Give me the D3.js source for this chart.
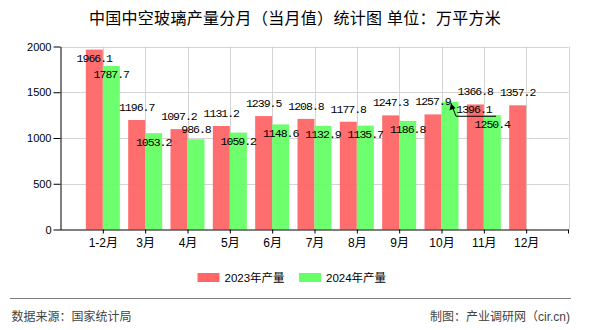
<!DOCTYPE html>
<html>
<head>
<meta charset="utf-8">
<script src="https://cdn.jsdelivr.net/npm/d3@7"></script>
<style>
  html, body { margin: 0; padding: 0; background: #fff; }
  svg { display: block; }
</style>
</head>
<body>
<svg id="chart" width="590" height="330"></svg>
<script>
// ---- data ----
const categories = ["1-2月", "3月", "4月", "5月", "6月", "7月", "8月", "9月", "10月", "11月", "12月"];
const values2023 = [1966.1, 1196.7, 1097.2, 1131.2, 1239.5, 1208.8, 1177.8, 1247.3, 1257.9, 1366.8, 1357.2];
const values2024 = [1787.7, 1053.2, 986.8, 1059.2, 1148.6, 1132.9, 1135.7, 1186.8, 1396.1, 1250.4];
const seriesNames = ["2023年产量", "2024年产量"];
const yTicks = [0, 500, 1000, 1500, 2000];
const titleText = "中国中空玻璃产量分月（当月值）统计图 单位：万平方米";
const sourceText = "数据来源：国家统计局";
const creditText = "制图：产业调研网（cir.cn)";

// ---- layout / style ----
const colors = ["#FF6666", "#66FF66"];
const plotL = 60.5, plotR = 568.5, plotT = 46.5, plotB = 229.5;
const barW = 17;
const cjk = "'Liberation Sans', 'Noto Sans CJK SC', sans-serif";
const mono = "'Liberation Mono', 'DejaVu Sans Mono', monospace";

// label placement (baseline relative to bar top)
const redDy = values2023.map((v, i) => i === 0 ? 12 : -9);
const greenDy = values2024.map((v, i) => i === 2 ? -5.8 : 12.5);
const greenLeader = { index: 8, dx: 24, dy: 11 };

const svg = d3.select("#chart");

const x = d3.scalePoint().domain(categories).range([plotL, plotR]).padding(1);
const y = d3.scaleLinear().domain([0, 2000]).range([plotB, plotT]);

// gridlines
const grid = svg.append("g");
grid.selectAll("line.h").data(yTicks.filter(t => t > 0)).enter().append("line")
  .attr("x1", plotL).attr("x2", plotR)
  .attr("y1", d => Math.round(y(d)) + 0.5).attr("y2", d => Math.round(y(d)) + 0.5)
  .attr("stroke", "#d4d4d4").attr("stroke-width", 1);
const vPos = categories.map(c => x(c)).concat([plotR]);
grid.selectAll("line.v").data(vPos).enter().append("line")
  .attr("x1", d => Math.round(d) + 0.5).attr("x2", d => Math.round(d) + 0.5)
  .attr("y1", plotT).attr("y2", plotB)
  .attr("stroke", "#d4d4d4").attr("stroke-width", 1);

// bars
svg.append("g").selectAll("rect").data(values2023).enter().append("rect")
  .attr("x", (d, i) => x(categories[i]) - barW)
  .attr("width", barW)
  .attr("y", d => y(d))
  .attr("height", d => plotB - y(d))
  .attr("fill", colors[0]).attr("fill-opacity", 0.95);
svg.append("g").selectAll("rect").data(values2024).enter().append("rect")
  .attr("x", (d, i) => x(categories[i]))
  .attr("width", barW)
  .attr("y", d => y(d))
  .attr("height", d => plotB - y(d))
  .attr("fill", colors[1]).attr("fill-opacity", 0.95);

// axes
const yAxis = svg.append("g").attr("transform", `translate(${plotL},0)`)
  .call(d3.axisLeft(y).tickValues(yTicks).tickFormat(d3.format("d")).tickSize(7).tickPadding(2).tickSizeOuter(0));
yAxis.selectAll("text").attr("font-family", cjk).attr("font-size", 11).attr("fill", "#000");
yAxis.selectAll("line, path").attr("stroke", "#000");

const xAxis = svg.append("g").attr("transform", `translate(0,${plotB})`)
  .call(d3.axisBottom(x).tickSize(4).tickPadding(5).tickSizeOuter(0));
xAxis.select("path.domain").attr("d", `M${plotL},0.5H${plotR}`);
xAxis.append("line").attr("x1", plotR).attr("x2", plotR).attr("y1", 0).attr("y2", 4).attr("stroke", "#000");
xAxis.selectAll("text").attr("font-family", cjk).attr("font-size", 12).attr("fill", "#000");
xAxis.selectAll("line, path").attr("stroke", "#000");

// value labels
const lbl = svg.append("g").attr("font-family", mono).attr("font-size", 11.5)
  .attr("letter-spacing", "-1px").attr("fill", "#000").attr("text-anchor", "middle");
lbl.selectAll("text.r").data(values2023).enter().append("text")
  .attr("x", (d, i) => x(categories[i]) - barW / 2)
  .attr("y", (d, i) => y(d) + redDy[i])
  .text(d => d.toFixed(1));
lbl.selectAll("text.g").data(values2024).enter().append("text")
  .attr("x", (d, i) => x(categories[i]) + barW / 2 + (i === greenLeader.index ? greenLeader.dx : 0))
  .attr("y", (d, i) => y(d) + (i === greenLeader.index ? greenLeader.dy : greenDy[i]))
  .text(d => d.toFixed(1));

// leader line for the labelled bar
{
  const i = greenLeader.index;
  const bx = x(categories[i]) + barW / 2 + 1;
  const by = y(values2024[i]) + 1.5;
  const lx = x(categories[i]) + barW / 2 + greenLeader.dx;
  svg.append("path")
    .attr("d", `M${bx},${by}L${bx + 5},${by + 13}H${lx + 22}`)
    .attr("fill", "none").attr("stroke", "#000").attr("stroke-width", 1);
  svg.append("path")
    .attr("d", `M${bx},${by}L${bx - 1.5},${by + 7}L${bx + 4.5},${by + 5}Z`)
    .attr("fill", "#000");
}

// title
svg.append("text").attr("x", 295).attr("y", 24).attr("text-anchor", "middle")
  .attr("font-family", cjk).attr("font-size", 16).attr("letter-spacing", "0.3px")
  .attr("fill", "#000").text(titleText);

// legend
const legend = svg.append("g").attr("font-family", cjk).attr("font-size", 11.5).attr("fill", "#000");
const legX = [197.5, 299];
seriesNames.forEach((name, i) => {
  legend.append("rect").attr("x", legX[i]).attr("y", 273).attr("width", 22).attr("height", 9).attr("fill", colors[i]);
  legend.append("text").attr("x", legX[i] + 27).attr("y", 281.5).text(name);
});

// footer
svg.append("line").attr("x1", 10).attr("x2", 571).attr("y1", 298.5).attr("y2", 298.5)
  .attr("stroke", "#808080").attr("stroke-width", 1);
svg.append("text").attr("x", 11.5).attr("y", 321).attr("font-family", cjk).attr("font-size", 12)
  .attr("fill", "#444").text(sourceText);
svg.append("text").attr("x", 570).attr("y", 321).attr("text-anchor", "end").attr("font-family", cjk).attr("font-size", 12)
  .attr("fill", "#444").text(creditText);
</script>
</body>
</html>
